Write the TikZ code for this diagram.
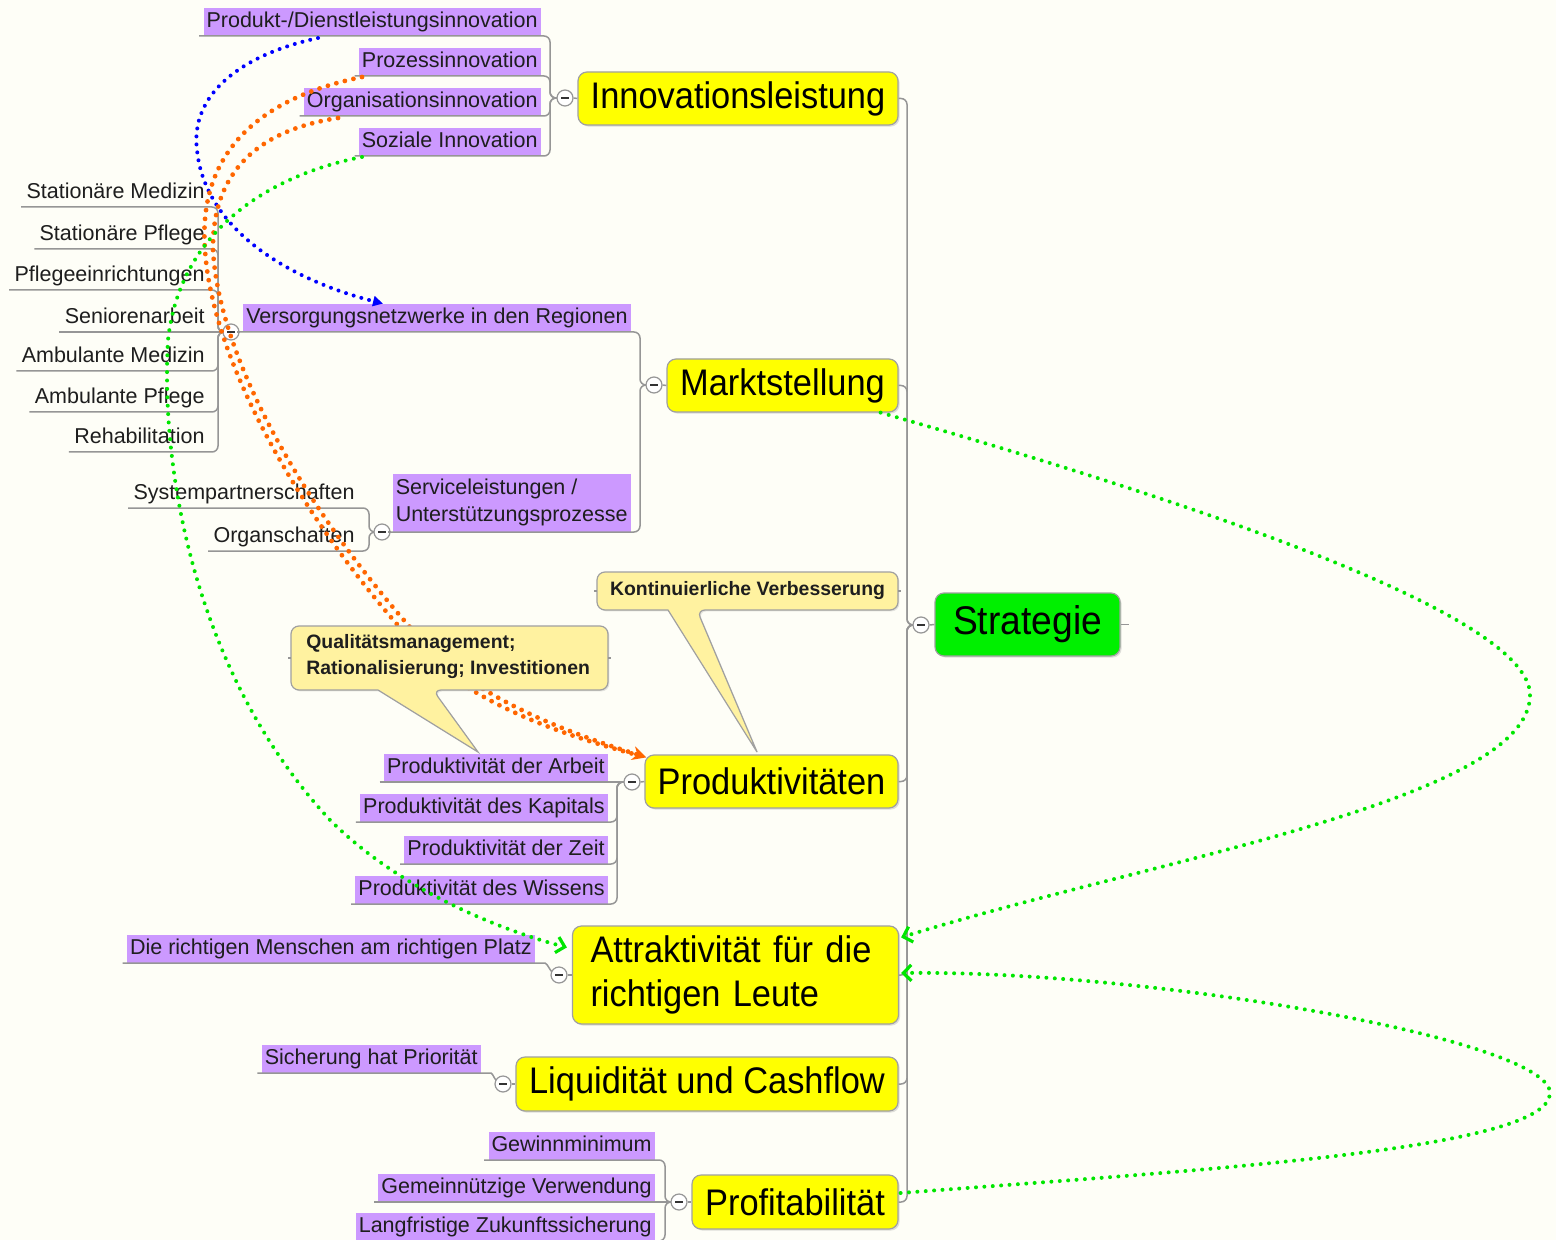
\documentclass[tikz,border=0pt]{standalone}
\usepackage{fontspec}
\setmainfont{Liberation Sans}
\newfontfamily\mainnodefont[FakeStretch=0.93]{Liberation Sans}
\usetikzlibrary{arrows.meta,shadows}

\definecolor{bgc}{RGB}{254,254,247}
\definecolor{leafpurple}{RGB}{204,153,255}
\definecolor{mainyellow}{RGB}{255,255,0}
\definecolor{rootgreen}{RGB}{0,240,0}
\definecolor{callyellow}{RGB}{255,242,160}
\definecolor{connc}{RGB}{150,150,150}
\definecolor{boxborder}{RGB}{160,160,160}
\definecolor{dotgreen}{RGB}{0,230,0}
\definecolor{dotorange}{RGB}{255,102,0}
\definecolor{dotblue}{RGB}{0,0,255}
\definecolor{txt}{RGB}{30,30,30}

\tikzset{
  mainbox/.style={draw=boxborder, fill=mainyellow, rounded corners=4.5pt, line width=0.6pt,
    font=\mainnodefont\fontsize{18.5pt}{22pt}\selectfont, inner sep=0pt,
    drop shadow={opacity=0.25, shadow xshift=0.8pt, shadow yshift=-0.8pt}},
  rootbox/.style={mainbox, fill=rootgreen, font=\mainnodefont\fontsize{20pt}{24pt}\selectfont},
  leaf/.style={fill=leafpurple, text=txt, font=\fontsize{10.75pt}{13.5pt}\selectfont,
    inner xsep=1.5pt, inner ysep=1.5pt, text height=8.2pt, text depth=2.6pt, anchor=south east},
  leafml/.style={fill=leafpurple, text=txt, font=\fontsize{10.75pt}{13.5pt}\selectfont,
    inner xsep=1.5pt, inner ysep=1.5pt, align=left, minimum height=29pt, anchor=south east},
  plainleaf/.style={leaf, fill=none, inner xsep=1pt},
  conn/.style={draw=connc, line width=0.75pt, rounded corners=3pt},
  btn/.style={circle, draw=connc, fill=white, line width=0.6pt, minimum size=8pt, inner sep=0pt,
    path picture={\draw[line width=0.9pt, black!80]
      ([xshift=-1.8pt]path picture bounding box.center) -- ([xshift=1.8pt]path picture bounding box.center);}},
  cbox/.style={fill=callyellow, draw=boxborder, line width=0.6pt,
    drop shadow={opacity=0.2, shadow xshift=0.7pt, shadow yshift=-0.7pt}},
  ctext/.style={font=\fontsize{9.7pt}{13pt}\selectfont\bfseries, text=txt, inner sep=0pt},
  dotg/.style={draw=dotgreen, line width=2pt, line cap=round, dash pattern=on 0pt off 4.2pt},
  doto/.style={draw=dotorange, line width=2.4pt, line cap=round, dash pattern=on 0pt off 4.4pt},
  dotb/.style={draw=dotblue, line width=2pt, line cap=round, dash pattern=on 0pt off 4pt},
}

\begin{document}
\begin{tikzpicture}[x=0.5pt,y=-0.5pt]
\useasboundingbox (0,0) rectangle (1556,1240);
\fill[bgc] (0,0) rectangle (1556,1240);
\clip (0,0) rectangle (1556,1240);

% ---------- main nodes ----------
\node[mainbox, minimum width=160pt, minimum height=26.5pt] (nI) at (738,98.5) {Innovationsleistung};
\node[mainbox, minimum width=115.5pt, minimum height=26.5pt] (nM) at (782.5,385.5) {Marktstellung};
\node[mainbox, minimum width=126.5pt, minimum height=26.5pt] (nP) at (771.5,781.5) {Produktivitäten};
\node[mainbox, minimum width=163pt, minimum height=49pt, align=left, text width=145pt] (nA) at (735.5,975) {Attraktivität für die\\richtigen Leute};
\node[mainbox, minimum width=191pt, minimum height=27pt] (nL) at (707,1084) {Liquidität und Cashflow};
\node[mainbox, minimum width=103pt, minimum height=27pt] (nPr) at (795,1202) {Profitabilität};
\node[rootbox, minimum width=92.5pt, minimum height=31.5pt] (nS) at (1027.5,624.5) {Strategie};

% ---------- junction coordinates ----------
\coordinate (jI) at (550,98);
\coordinate (jM) at (640,385);
\coordinate (jV) at (218,332);
\coordinate (jS) at (369,532);
\coordinate (jR) at (907,625);
\coordinate (jP) at (617,782);
\coordinate (jPr) at (665,1202);

% ---------- leaves ----------
\node[leaf] (p1) at (541,36) {Produkt-/Dienstleistungsinnovation};
\node[leaf] (p2) at (541,76) {Prozessinnovation};
\node[leaf] (p3) at (541,116) {Organisationsinnovation};
\node[leaf] (p4) at (541,156) {Soziale Innovation};
\node[leaf] (vn) at (631,332) {Versorgungsnetzwerke in den Regionen};
\node[leafml] (vs) at (631,532) {Serviceleistungen /\\Unterstützungsprozesse};
\node[plainleaf] (s1) at (207,207) {Stationäre Medizin};
\node[plainleaf] (s2) at (207,249) {Stationäre Pflege};
\node[plainleaf] (s3) at (207,290) {Pflegeeinrichtungen};
\node[plainleaf] (s4) at (207,332) {Seniorenarbeit};
\node[plainleaf] (s5) at (207,371) {Ambulante Medizin};
\node[plainleaf] (s6) at (207,412) {Ambulante Pflege};
\node[plainleaf] (s7) at (207,452) {Rehabilitation};
\node[plainleaf] (t1) at (357,508) {Systempartnerschaften};
\node[plainleaf] (t2) at (357,551) {Organschaften};
\node[leaf] (q1) at (608,782) {Produktivität der Arbeit};
\node[leaf] (q2) at (608,822) {Produktivität des Kapitals};
\node[leaf] (q3) at (608,864) {Produktivität der Zeit};
\node[leaf] (q4) at (608,904) {Produktivität des Wissens};
\node[leaf] (r1) at (535,963) {Die richtigen Menschen am richtigen Platz};
\node[leaf] (l1) at (481,1073) {Sicherung hat Priorität};
\node[leaf] (g1) at (655,1160) {Gewinnminimum};
\node[leaf] (g2) at (655,1202) {Gemeinnützige Verwendung};
\node[leaf] (g3) at (655,1241) {Langfristige Zukunftssicherung};

% ---------- connectors ----------
\foreach \n in {nI,nM,nP,nA,nL,nPr} \draw[conn] (\n.east) -| (jR) -- (921,625);
\foreach \n in {p1,p2,p3,p4} \draw[conn] ([xshift=-2pt]\n.south west) -| (jI) -- (565,98);
\draw[conn] (231,332) -| (jM) -- (654,385);
\draw[conn] (382,532) -| (jM) -- (654,385);
\foreach \n in {s1,s2,s3,s5,s6,s7} \draw[conn] ([xshift=-1.5pt]\n.south west) -| (jV) -- (231,332);
\draw[conn] ([xshift=-1.5pt]s4.south west) -- (231,332);
\foreach \n in {t1,t2} \draw[conn] ([xshift=-1.5pt]\n.south west) -| (jS) -- (382,532);
\draw[conn] ([xshift=-2pt]q1.south west) -- (632,782);
\foreach \n in {q2,q3,q4} \draw[conn] ([xshift=-2pt]\n.south west) -| (jP) -- (632,782);
\draw[conn] ([xshift=-2pt]r1.south west) -- ([xshift=2pt]r1.south east) to[out=0,in=180] (559,975);
\draw[conn] ([xshift=-2pt]l1.south west) -- ([xshift=2pt]l1.south east) to[out=0,in=180] (503,1084);
\draw[conn] ([xshift=-2pt]g2.south west) -- (679,1202);
\foreach \n in {g1,g3} \draw[conn] ([xshift=-2pt]\n.south west) -| (jPr) -- (679,1202);
\draw[conn] (nS.east) -- ++(4pt,0);

% ---------- buttons ----------
\node[btn] (bI) at (565,98) {};
\node[btn] (bM) at (654,385) {};
\node[btn] (bV) at (231,332) {};
\node[btn] (bS) at (382,532) {};
\node[btn] (bR) at (921,625) {};
\node[btn] (bP) at (632,782) {};
\node[btn] (bA) at (559,975) {};
\node[btn] (bL) at (503,1084) {};
\node[btn] (bPr) at (679,1202) {};
\draw[conn] (bI.east) -- (nI.west);
\draw[conn] (bM.east) -- (nM.west);
\draw[conn] (bR.east) -- (nS.west);
\draw[conn] (bP.east) -- (nP.west);
\draw[conn] (bA.east) -- (nA.west);
\draw[conn] (bL.east) -- (nL.west);
\draw[conn] (bPr.east) -- (nPr.west);
\draw[conn] (bV.east) -- ([xshift=-3pt]vn.south west);
\draw[conn] (bS.east) -- ([xshift=-2pt]vs.south west);

% ---------- dotted relations ----------
\draw[dotb, -{Triangle[length=5pt,width=5pt]}]
  ([xshift=-111.5pt,yshift=-1pt]p1.south east) .. controls (240,55) and (190,95) .. (197,150)
  .. controls (205,230) and (290,280) .. ([xshift=-124pt]vn.north east);
\draw[doto]
  ([xshift=-89.5pt,yshift=-0.5pt]p2.south east) .. controls (250,100) and (198,160) .. (205,250)
  .. controls (212,360) and (300,520) .. (420,650)
  .. controls (480,710) and (580,740) .. ([xshift=1pt,yshift=-1.5pt]nP.north west);
\draw[doto, -{Stealth[length=7pt,width=7pt]}]
  ([xshift=-101.5pt,yshift=-1pt]p3.south east) .. controls (260,130) and (212,170) .. (213,250)
  .. controls (219,360) and (307,515) .. (426,645)
  .. controls (486,705) and (585,738) .. ([xshift=1pt,yshift=-1.5pt]nP.north west);
\draw[dotg, -{Straight Barb[length=4pt,width=8pt,line width=1.6pt]}]
  ([xshift=-89.5pt,yshift=-0.5pt]p4.south east) .. controls (270,175) and (180,230) .. (168,340)
  .. controls (160,480) and (200,680) .. (330,820)
  .. controls (400,890) and (500,930) .. ([xshift=-2.5pt,yshift=-11pt]nA.north west);
\draw[dotg, -{Straight Barb[length=4pt,width=8pt,line width=1.6pt]}]
  ([xshift=-9pt]nM.south east) .. controls (1150,490) and (1530,610) .. (1530,695)
  .. controls (1530,800) and (1150,860) .. ([xshift=1pt,yshift=-6pt]nA.north east);
\draw[dotg, -{Straight Barb[length=4pt,width=8pt,line width=1.6pt]}]
  ([xshift=1pt,yshift=4.5pt]nPr.east) .. controls (1200,1170) and (1550,1150) .. (1550,1093)
  .. controls (1550,1040) and (1150,970) .. ([xshift=1pt,yshift=1pt]nA.east);

% ---------- callouts ----------
\draw[cbox] (747,572) [rounded corners=4pt] -- (898,572) -- (898,610) -- (697,610) [sharp corners]
  -- (757,752) -- (668,610) [rounded corners=4pt] -- (597,610) -- (597,572) -- cycle;
\node[ctext] (cK) at (747.5,591) {Kontinuierliche Verbesserung};
\draw[conn] (594,591) -- (597,591);
\draw[conn] (898,591) -- (901,591);

\draw[cbox] (450,626) [rounded corners=4pt] -- (608,626) -- (608,690) -- (433,690) [sharp corners]
  -- (478,752) -- (378,690) [rounded corners=4pt] -- (291,690) -- (291,626) -- cycle;
\node[ctext, align=left, anchor=west] (cQ) at (306,657) {Qualitätsmanagement;\\Rationalisierung; Investitionen};
\draw[conn] (288,658) -- (291,658);
\draw[conn] (608,658) -- (611,658);
\end{tikzpicture}
\end{document}
